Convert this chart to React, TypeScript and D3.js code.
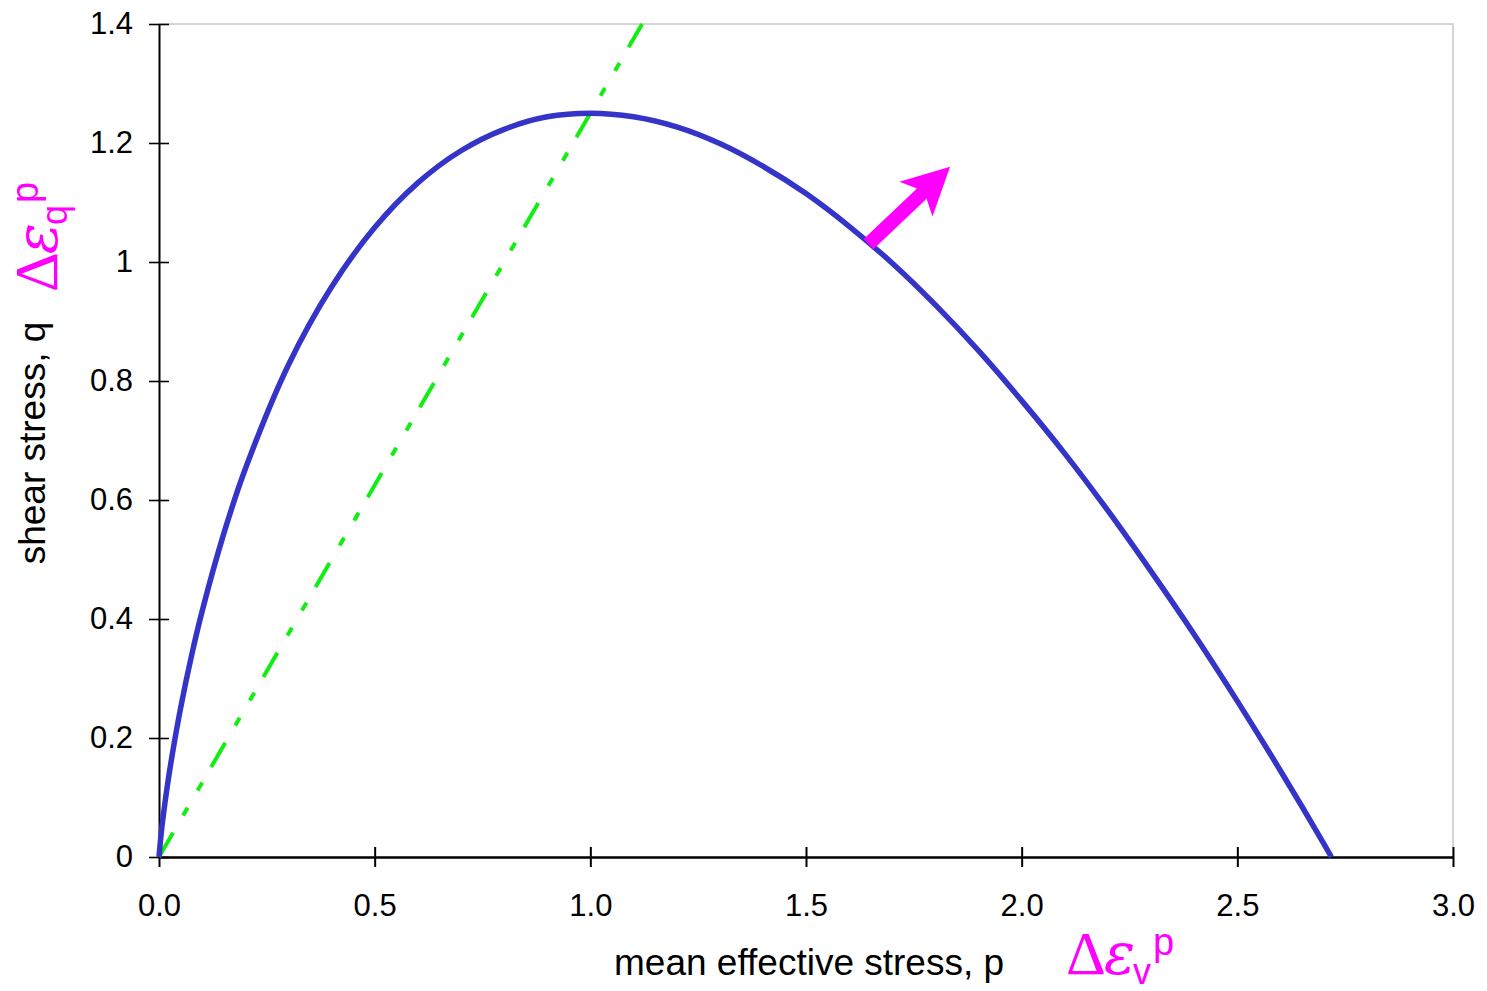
import React, { useEffect, useRef } from 'react';
import * as d3 from 'd3';

// yield curve (p, q)
const curveP = [0, 0.005, 0.01, 0.02, 0.03, 0.05, 0.075, 0.1, 0.15, 0.2, 0.3, 0.4, 0.5, 0.6, 0.7, 0.8, 0.9, 1.0,
  1.1, 1.2, 1.3, 1.4, 1.5, 1.6, 1.7, 1.8, 1.9, 2.0, 2.1, 2.2, 2.3, 2.4, 2.5, 2.6, 2.7, 2.718];
const curveQ = [0, 0.039, 0.07, 0.123, 0.169, 0.25, 0.337, 0.413, 0.543, 0.652, 0.827, 0.958, 1.058, 1.133, 1.187, 1.223, 1.244, 1.25,
  1.244, 1.227, 1.199, 1.161, 1.115, 1.06, 0.998, 0.928, 0.851, 0.767, 0.678, 0.582, 0.48, 0.374, 0.262, 0.145, 0.023, 0];

// critical state line (dash-dot)
const cslP = [0, 1.12];
const cslQ = [0, 1.4];

// strain increment arrow: base on curve -> tip
const arrowP = [1.645, 1.834];
const arrowQ = [1.03, 1.16];

const xTicks = [0, 0.5, 1.0, 1.5, 2.0, 2.5, 3.0];
const xTickLabels = ['0.0', '0.5', '1.0', '1.5', '2.0', '2.5', '3.0'];
const yTicks = [0, 0.2, 0.4, 0.6, 0.8, 1.0, 1.2, 1.4];
const yTickLabels = ['0', '0.2', '0.4', '0.6', '0.8', '1', '1.2', '1.4'];

const SANS = '"Liberation Sans", Arial, Helvetica, sans-serif';
const SERIF = '"Liberation Serif", "Times New Roman", serif';
const MAGENTA = '#ff00ff';

const App = () => {
  const ref = useRef<SVGSVGElement>(null);

  useEffect(() => {
    const svg = d3.select(ref.current);
    svg.selectAll('*').remove();

    const left = 159, right = 1453, top = 24, bottom = 857;
    const x = d3.scaleLinear().domain([0, 3]).range([left, right]);
    const y = d3.scaleLinear().domain([0, 1.4]).range([bottom, top]);

    // light frame top / right
    svg.append('path')
      .attr('d', `M${left},${top}H${right}V${bottom}`)
      .attr('fill', 'none')
      .attr('stroke', '#d4d4d4')
      .attr('stroke-width', 2);

    // y axis
    const gy = svg.append('g').attr('transform', `translate(${left},0)`)
      .call(d3.axisLeft(y).tickValues(yTicks).tickSize(10).tickSizeOuter(0).tickPadding(16)
        .tickFormat((d, i) => yTickLabels[i]));
    gy.select('.domain').attr('stroke-width', 2);
    gy.selectAll('.tick line').attr('x1', 10).attr('stroke-width', 1.6);
    gy.selectAll('.tick text').attr('font-size', 31).attr('font-family', SANS).attr('fill', '#000');

    // x axis
    const gx = svg.append('g').attr('transform', `translate(0,${bottom})`)
      .call(d3.axisBottom(x).tickValues(xTicks).tickSize(10).tickSizeOuter(0).tickPadding(27)
        .tickFormat((d, i) => xTickLabels[i]));
    gx.select('.domain').attr('stroke-width', 2.5);
    gx.selectAll('.tick line').attr('y1', -10).attr('stroke-width', 2);
    gx.selectAll('.tick text').attr('font-size', 31).attr('font-family', SANS).attr('fill', '#000');

    // critical state line
    const line = d3.line<number>().x((d, i) => x(cslP[i])).y((d, i) => y(cslQ[i]));
    svg.append('path')
      .attr('d', line(cslP))
      .attr('fill', 'none')
      .attr('stroke', '#11ee11')
      .attr('stroke-width', 4)
      .attr('stroke-dasharray', '28,20,9,20,9,18');

    // yield curve
    const curve = d3.line<number>().x((d, i) => x(curveP[i])).y((d, i) => y(curveQ[i])).curve(d3.curveCatmullRom);
    svg.append('path')
      .attr('d', curve(curveP))
      .attr('fill', 'none')
      .attr('stroke', '#3434c8')
      .attr('stroke-width', 5.5)
      .attr('stroke-linejoin', 'round');

    // arrow
    const x0 = x(arrowP[0]), y0 = y(arrowQ[0]);
    const x1 = x(arrowP[1]), y1 = y(arrowQ[1]);
    const L = Math.hypot(x1 - x0, y1 - y0);
    const ang = Math.atan2(y1 - y0, x1 - x0) * 180 / Math.PI;
    const pts = [[0, -7], [L - 39, -7], [L - 47, -24], [L, 0], [L - 47, 24], [L - 39, 7], [0, 7]];
    svg.append('polygon')
      .attr('points', pts.map(p => p.join(',')).join(' '))
      .attr('transform', `translate(${x0},${y0}) rotate(${ang})`)
      .attr('fill', MAGENTA);

    // axis titles
    svg.append('text')
      .attr('x', 614).attr('y', 975)
      .attr('font-family', SANS).attr('font-size', 37)
      .text('mean effective stress, p');

    svg.append('text')
      .attr('transform', 'translate(45,443) rotate(-90)')
      .attr('text-anchor', 'middle')
      .attr('font-family', SANS).attr('font-size', 37)
      .text('shear stress, q');

    // strain increment labels
    const addLabel = (tx: string, sub: string) => {
      const t = svg.append('text').attr('transform', tx).attr('fill', MAGENTA);
      t.append('tspan').attr('font-family', SERIF).attr('font-size', 62).text('Δ');
      t.append('tspan').attr('font-family', '"DejaVu Serif", serif').attr('font-size', 58)
        .attr('font-style', 'italic').attr('dx', -2).text('ε');
      t.append('tspan').attr('font-family', SANS).attr('font-size', 36).attr('dx', -2).attr('dy', 10).text(sub);
      t.append('tspan').attr('font-family', SANS).attr('font-size', 38).attr('dx', 2).attr('dy', -29).text('p');
    };
    addLabel('translate(1066,974)', 'v');
    addLabel('translate(57,292) rotate(-90)', 'q');
  }, []);

  return (
    <svg ref={ref} width={1487} height={991}
      style={{ position: 'absolute', left: 0, top: 0, background: '#fff' }} />
  );
};

export default App;
